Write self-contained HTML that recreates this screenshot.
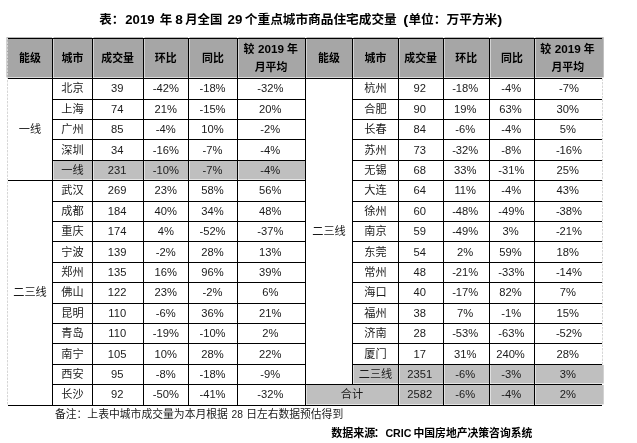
<!DOCTYPE html>
<html lang="zh-CN"><head><meta charset="utf-8"><title>2019年8月全国29个重点城市商品住宅成交量</title>
<style>
html,body{margin:0;padding:0;background:#fff;}
body{width:637px;height:443px;overflow:hidden;}
svg{display:block;will-change:transform;}
text{font-family:"Liberation Sans","Noto Sans CJK SC",sans-serif;font-size:11.2px;fill:#1a1a1a;text-anchor:middle;}
text.b{font-weight:bold;font-size:10.9px;fill:#000;}
text.t{font-weight:bold;font-size:12.5px;fill:#000;}
text.n{font-size:10.9px;}
text.s{font-weight:bold;font-size:10.9px;fill:#000;}
</style></head><body>
<svg width="637" height="443" viewBox="0 0 637 443">
<rect x="0" y="0" width="637" height="443" fill="#fff"/>
<rect x="6.50" y="37.20" width="45.50" height="40.20" fill="#a6a6a6"/>
<rect x="53.50" y="37.20" width="38.50" height="40.20" fill="#a6a6a6"/>
<rect x="93.50" y="37.20" width="49.50" height="40.20" fill="#a6a6a6"/>
<rect x="144.50" y="37.20" width="43.50" height="40.20" fill="#a6a6a6"/>
<rect x="189.50" y="37.20" width="47.50" height="40.20" fill="#a6a6a6"/>
<rect x="238.50" y="37.20" width="66.50" height="40.20" fill="#a6a6a6"/>
<rect x="306.50" y="37.20" width="45.50" height="40.20" fill="#a6a6a6"/>
<rect x="353.50" y="37.20" width="44.50" height="40.20" fill="#a6a6a6"/>
<rect x="399.50" y="37.20" width="43.50" height="40.20" fill="#a6a6a6"/>
<rect x="444.50" y="37.20" width="44.50" height="40.20" fill="#a6a6a6"/>
<rect x="490.50" y="37.20" width="43.50" height="40.20" fill="#a6a6a6"/>
<rect x="535.50" y="37.20" width="68.20" height="40.20" fill="#a6a6a6"/>
<rect x="53.50" y="161.00" width="38.50" height="18.40" fill="#bfbfbf"/>
<rect x="353.50" y="365.00" width="44.50" height="18.40" fill="#bfbfbf"/>
<rect x="93.50" y="161.00" width="49.50" height="18.40" fill="#bfbfbf"/>
<rect x="399.50" y="365.00" width="43.50" height="18.40" fill="#bfbfbf"/>
<rect x="144.50" y="161.00" width="43.50" height="18.40" fill="#bfbfbf"/>
<rect x="444.50" y="365.00" width="44.50" height="18.40" fill="#bfbfbf"/>
<rect x="189.50" y="161.00" width="47.50" height="18.40" fill="#bfbfbf"/>
<rect x="490.50" y="365.00" width="43.50" height="18.40" fill="#bfbfbf"/>
<rect x="238.50" y="161.00" width="66.50" height="18.40" fill="#bfbfbf"/>
<rect x="535.50" y="365.00" width="68.20" height="18.40" fill="#bfbfbf"/>
<rect x="306.50" y="385.00" width="91.50" height="19.40" fill="#bfbfbf"/>
<rect x="399.50" y="385.00" width="43.50" height="19.40" fill="#bfbfbf"/>
<rect x="444.50" y="385.00" width="44.50" height="19.40" fill="#bfbfbf"/>
<rect x="490.50" y="385.00" width="43.50" height="19.40" fill="#bfbfbf"/>
<rect x="535.50" y="385.00" width="68.20" height="19.40" fill="#bfbfbf"/>
<g stroke="#000" stroke-width="1.0" fill="none">
<line x1="8.00" y1="38.50" x2="602.00" y2="38.50" />
<line x1="8.00" y1="78.50" x2="602.00" y2="78.50" />
<line x1="8.00" y1="405.50" x2="602.00" y2="405.50" />
<line x1="52.50" y1="99.50" x2="305.50" y2="99.50" />
<line x1="352.50" y1="99.50" x2="602.00" y2="99.50" />
<line x1="52.50" y1="119.50" x2="305.50" y2="119.50" />
<line x1="352.50" y1="119.50" x2="602.00" y2="119.50" />
<line x1="52.50" y1="139.50" x2="305.50" y2="139.50" />
<line x1="352.50" y1="139.50" x2="602.00" y2="139.50" />
<line x1="52.50" y1="160.50" x2="305.50" y2="160.50" />
<line x1="352.50" y1="160.50" x2="602.00" y2="160.50" />
<line x1="8.00" y1="180.50" x2="305.50" y2="180.50" />
<line x1="352.50" y1="180.50" x2="602.00" y2="180.50" />
<line x1="52.50" y1="201.50" x2="305.50" y2="201.50" />
<line x1="352.50" y1="201.50" x2="602.00" y2="201.50" />
<line x1="52.50" y1="221.50" x2="305.50" y2="221.50" />
<line x1="352.50" y1="221.50" x2="602.00" y2="221.50" />
<line x1="52.50" y1="241.50" x2="305.50" y2="241.50" />
<line x1="352.50" y1="241.50" x2="602.00" y2="241.50" />
<line x1="52.50" y1="262.50" x2="305.50" y2="262.50" />
<line x1="352.50" y1="262.50" x2="602.00" y2="262.50" />
<line x1="52.50" y1="282.50" x2="305.50" y2="282.50" />
<line x1="352.50" y1="282.50" x2="602.00" y2="282.50" />
<line x1="52.50" y1="303.50" x2="305.50" y2="303.50" />
<line x1="352.50" y1="303.50" x2="602.00" y2="303.50" />
<line x1="52.50" y1="323.50" x2="305.50" y2="323.50" />
<line x1="352.50" y1="323.50" x2="602.00" y2="323.50" />
<line x1="52.50" y1="343.50" x2="305.50" y2="343.50" />
<line x1="352.50" y1="343.50" x2="602.00" y2="343.50" />
<line x1="52.50" y1="364.50" x2="305.50" y2="364.50" />
<line x1="352.50" y1="364.50" x2="602.00" y2="364.50" />
<line x1="52.50" y1="384.50" x2="305.50" y2="384.50" />
<line x1="305.50" y1="384.50" x2="602.00" y2="384.50" />
<line x1="52.50" y1="38.50" x2="52.50" y2="405.50" />
<line x1="92.50" y1="38.50" x2="92.50" y2="405.50" />
<line x1="143.50" y1="38.50" x2="143.50" y2="405.50" />
<line x1="188.50" y1="38.50" x2="188.50" y2="405.50" />
<line x1="237.50" y1="38.50" x2="237.50" y2="405.50" />
<line x1="305.50" y1="38.50" x2="305.50" y2="405.50" />
<line x1="352.50" y1="38.50" x2="352.50" y2="384.50" />
<line x1="398.50" y1="38.50" x2="398.50" y2="405.50" />
<line x1="443.50" y1="38.50" x2="443.50" y2="405.50" />
<line x1="489.50" y1="38.50" x2="489.50" y2="405.50" />
<line x1="534.50" y1="38.50" x2="534.50" y2="405.50" />
</g>
<g stroke="#d6d6d6" stroke-width="1" stroke-dasharray="2.4 1.1" fill="none">
<line x1="7.50" y1="38.00" x2="7.50" y2="405.50" />
<line x1="602.50" y1="78.50" x2="602.50" y2="364.50" />
</g>
<text x="30.00" y="62.10" class="b">能级</text>
<text x="72.50" y="62.10" class="b">城市</text>
<text x="117.60" y="62.10" class="b">成交量</text>
<text x="165.70" y="62.10" class="b">环比</text>
<text x="213.00" y="62.10" class="b">同比</text>
<text y="53.20" class="b" style="text-anchor:start" xml:space="preserve"><tspan x="243.40">较</tspan><tspan x="255.00"> </tspan><tspan x="257.90" textLength="26.0" lengthAdjust="spacingAndGlyphs">2019</tspan><tspan x="284.00"> </tspan><tspan x="287.10">年</tspan></text>
<text x="271.00" y="70.60" class="b">月平均</text>
<text x="329.00" y="62.10" class="b">能级</text>
<text x="375.50" y="62.10" class="b">城市</text>
<text x="420.60" y="62.10" class="b">成交量</text>
<text x="466.20" y="62.10" class="b">环比</text>
<text x="512.00" y="62.10" class="b">同比</text>
<text y="53.20" class="b" style="text-anchor:start" xml:space="preserve"><tspan x="540.15">较</tspan><tspan x="551.75"> </tspan><tspan x="554.65" textLength="26.0" lengthAdjust="spacingAndGlyphs">2019</tspan><tspan x="580.75"> </tspan><tspan x="583.85">年</tspan></text>
<text x="567.75" y="70.60" class="b">月平均</text>
<text x="72.50" y="92.30">北京</text>
<text x="117.20" y="92.00">39</text>
<text x="165.80" y="92.00">-42%</text>
<text x="212.50" y="92.00">-18%</text>
<text x="270.30" y="92.00">-32%</text>
<text x="72.50" y="113.30">上海</text>
<text x="117.20" y="113.00">74</text>
<text x="165.80" y="113.00">21%</text>
<text x="212.50" y="113.00">-15%</text>
<text x="270.30" y="113.00">20%</text>
<text x="72.50" y="133.30">广州</text>
<text x="117.20" y="133.00">85</text>
<text x="165.80" y="133.00">-4%</text>
<text x="212.50" y="133.00">10%</text>
<text x="270.30" y="133.00">-2%</text>
<text x="72.50" y="154.30">深圳</text>
<text x="117.20" y="154.00">34</text>
<text x="165.80" y="154.00">-16%</text>
<text x="212.50" y="154.00">-7%</text>
<text x="270.30" y="154.00">-4%</text>
<text x="72.50" y="174.30">一线</text>
<text x="117.20" y="174.00">231</text>
<text x="165.80" y="174.00">-10%</text>
<text x="212.50" y="174.00">-7%</text>
<text x="270.30" y="174.00">-4%</text>
<text x="72.50" y="194.30">武汉</text>
<text x="117.20" y="194.00">269</text>
<text x="165.80" y="194.00">23%</text>
<text x="212.50" y="194.00">58%</text>
<text x="270.30" y="194.00">56%</text>
<text x="72.50" y="215.30">成都</text>
<text x="117.20" y="215.00">184</text>
<text x="165.80" y="215.00">40%</text>
<text x="212.50" y="215.00">34%</text>
<text x="270.30" y="215.00">48%</text>
<text x="72.50" y="235.30">重庆</text>
<text x="117.20" y="235.00">174</text>
<text x="165.80" y="235.00">4%</text>
<text x="212.50" y="235.00">-52%</text>
<text x="270.30" y="235.00">-37%</text>
<text x="72.50" y="256.30">宁波</text>
<text x="117.20" y="256.00">139</text>
<text x="165.80" y="256.00">-2%</text>
<text x="212.50" y="256.00">28%</text>
<text x="270.30" y="256.00">13%</text>
<text x="72.50" y="276.30">郑州</text>
<text x="117.20" y="276.00">135</text>
<text x="165.80" y="276.00">16%</text>
<text x="212.50" y="276.00">96%</text>
<text x="270.30" y="276.00">39%</text>
<text x="72.50" y="296.30">佛山</text>
<text x="117.20" y="296.00">122</text>
<text x="165.80" y="296.00">23%</text>
<text x="212.50" y="296.00">-2%</text>
<text x="270.30" y="296.00">6%</text>
<text x="72.50" y="317.30">昆明</text>
<text x="117.20" y="317.00">110</text>
<text x="165.80" y="317.00">-6%</text>
<text x="212.50" y="317.00">36%</text>
<text x="270.30" y="317.00">21%</text>
<text x="72.50" y="337.30">青岛</text>
<text x="117.20" y="337.00">110</text>
<text x="165.80" y="337.00">-19%</text>
<text x="212.50" y="337.00">-10%</text>
<text x="270.30" y="337.00">2%</text>
<text x="72.50" y="358.30">南宁</text>
<text x="117.20" y="358.00">105</text>
<text x="165.80" y="358.00">10%</text>
<text x="212.50" y="358.00">28%</text>
<text x="270.30" y="358.00">22%</text>
<text x="72.50" y="378.30">西安</text>
<text x="117.20" y="378.00">95</text>
<text x="165.80" y="378.00">-8%</text>
<text x="212.50" y="378.00">-18%</text>
<text x="270.30" y="378.00">-9%</text>
<text x="72.50" y="398.30">长沙</text>
<text x="117.20" y="398.00">92</text>
<text x="165.80" y="398.00">-50%</text>
<text x="212.50" y="398.00">-41%</text>
<text x="270.30" y="398.00">-32%</text>
<text x="375.50" y="92.30">杭州</text>
<text x="419.80" y="92.00">92</text>
<text x="465.20" y="92.00">-18%</text>
<text x="511.30" y="92.00">-4%</text>
<text x="568.95" y="92.00">-7%</text>
<text x="375.50" y="113.30">合肥</text>
<text x="419.80" y="113.00">90</text>
<text x="465.20" y="113.00">19%</text>
<text x="510.50" y="113.00">63%</text>
<text x="567.75" y="113.00">30%</text>
<text x="375.50" y="133.30">长春</text>
<text x="419.80" y="133.00">84</text>
<text x="465.20" y="133.00">-6%</text>
<text x="511.30" y="133.00">-4%</text>
<text x="567.75" y="133.00">5%</text>
<text x="375.50" y="154.30">苏州</text>
<text x="419.80" y="154.00">73</text>
<text x="465.20" y="154.00">-32%</text>
<text x="511.30" y="154.00">-8%</text>
<text x="568.95" y="154.00">-16%</text>
<text x="375.50" y="174.30">无锡</text>
<text x="419.80" y="174.00">68</text>
<text x="465.20" y="174.00">33%</text>
<text x="511.30" y="174.00">-31%</text>
<text x="567.75" y="174.00">25%</text>
<text x="375.50" y="194.30">大连</text>
<text x="419.80" y="194.00">64</text>
<text x="465.20" y="194.00">11%</text>
<text x="511.30" y="194.00">-4%</text>
<text x="567.75" y="194.00">43%</text>
<text x="375.50" y="215.30">徐州</text>
<text x="419.80" y="215.00">60</text>
<text x="465.20" y="215.00">-48%</text>
<text x="511.30" y="215.00">-49%</text>
<text x="568.95" y="215.00">-38%</text>
<text x="375.50" y="235.30">南京</text>
<text x="419.80" y="235.00">59</text>
<text x="465.20" y="235.00">-49%</text>
<text x="510.50" y="235.00">3%</text>
<text x="568.95" y="235.00">-21%</text>
<text x="375.50" y="256.30">东莞</text>
<text x="419.80" y="256.00">54</text>
<text x="465.20" y="256.00">2%</text>
<text x="510.50" y="256.00">59%</text>
<text x="567.75" y="256.00">18%</text>
<text x="375.50" y="276.30">常州</text>
<text x="419.80" y="276.00">48</text>
<text x="465.20" y="276.00">-21%</text>
<text x="511.30" y="276.00">-33%</text>
<text x="568.95" y="276.00">-14%</text>
<text x="375.50" y="296.30">海口</text>
<text x="419.80" y="296.00">40</text>
<text x="465.20" y="296.00">-17%</text>
<text x="510.50" y="296.00">82%</text>
<text x="567.75" y="296.00">7%</text>
<text x="375.50" y="317.30">福州</text>
<text x="419.80" y="317.00">38</text>
<text x="465.20" y="317.00">7%</text>
<text x="511.30" y="317.00">-1%</text>
<text x="567.75" y="317.00">15%</text>
<text x="375.50" y="337.30">济南</text>
<text x="419.80" y="337.00">28</text>
<text x="465.20" y="337.00">-53%</text>
<text x="511.30" y="337.00">-63%</text>
<text x="568.95" y="337.00">-52%</text>
<text x="375.50" y="358.30">厦门</text>
<text x="419.80" y="358.00">17</text>
<text x="465.20" y="358.00">31%</text>
<text x="510.50" y="358.00">240%</text>
<text x="567.75" y="358.00">28%</text>
<text x="375.50" y="378.30">二三线</text>
<text x="419.80" y="378.00">2351</text>
<text x="465.20" y="378.00">-6%</text>
<text x="511.30" y="378.00">-3%</text>
<text x="567.75" y="378.00">3%</text>
<text x="352.00" y="398.30">合计</text>
<text x="419.80" y="398.00">2582</text>
<text x="465.20" y="398.00">-6%</text>
<text x="511.30" y="398.00">-4%</text>
<text x="567.75" y="398.00">2%</text>
<text x="30.00" y="133.40">一线</text>
<text x="30.00" y="296.40">二三线</text>
<text x="329.00" y="235.40">二三线</text>
<text class="t" style="text-anchor:start" xml:space="preserve"><tspan x="99.30" y="24.15">表：</tspan><tspan x="125.30" y="23.70" font-size="13.2px" textLength="29.20" lengthAdjust="spacingAndGlyphs">2019</tspan><tspan x="154.50" y="24.15"> </tspan><tspan x="159.80" y="24.15">年</tspan><tspan x="172.00" y="24.15"> </tspan><tspan x="175.20" y="23.70" font-size="13.2px" textLength="7.60" lengthAdjust="spacingAndGlyphs">8</tspan><tspan x="182.50" y="24.15"> </tspan><tspan x="185.20" y="24.15" textLength="37.20" lengthAdjust="spacingAndGlyphs">月全国</tspan><tspan x="222.50" y="24.15"> </tspan><tspan x="227.50" y="23.70" font-size="13.2px" textLength="14.80" lengthAdjust="spacingAndGlyphs">29</tspan><tspan x="242.00" y="24.15"> </tspan><tspan x="244.80" y="24.15" textLength="152.00" lengthAdjust="spacingAndGlyphs">个重点城市商品住宅成交量</tspan><tspan x="397.50" y="24.15"> </tspan><tspan x="403.30" y="23.70" font-size="13.2px" textLength="5.00" lengthAdjust="spacingAndGlyphs">(</tspan><tspan x="408.40" y="24.15" textLength="88.90" lengthAdjust="spacingAndGlyphs">单位：万平方米</tspan><tspan x="497.20" y="23.70" font-size="13.2px" textLength="5.00" lengthAdjust="spacingAndGlyphs">)</tspan></text>
<text class="n" style="text-anchor:start" xml:space="preserve"><tspan x="54.90" y="417.70" textLength="173.00" lengthAdjust="spacingAndGlyphs">备注：上表中城市成交量为本月根据</tspan><tspan x="228.20" y="417.70"> </tspan><tspan x="231.60" y="417.70" font-size="11.5px" textLength="11.40" lengthAdjust="spacingAndGlyphs">28</tspan><tspan x="243.20" y="417.70"> </tspan><tspan x="246.20" y="417.70" textLength="97.00" lengthAdjust="spacingAndGlyphs">日左右数据预估得到</tspan></text>
<text class="s" style="text-anchor:start" xml:space="preserve"><tspan x="331.20" y="436.90" textLength="44.00" lengthAdjust="spacingAndGlyphs">数据来源</tspan><tspan x="373.80" y="436.90">：</tspan><tspan x="385.40" y="436.90" textLength="26.00" lengthAdjust="spacingAndGlyphs">CRIC</tspan><tspan x="411.30" y="436.90"> </tspan><tspan x="413.50" y="436.90" textLength="118.80" lengthAdjust="spacingAndGlyphs">中国房地产决策咨询系统</tspan></text>
</svg>
</body></html>
